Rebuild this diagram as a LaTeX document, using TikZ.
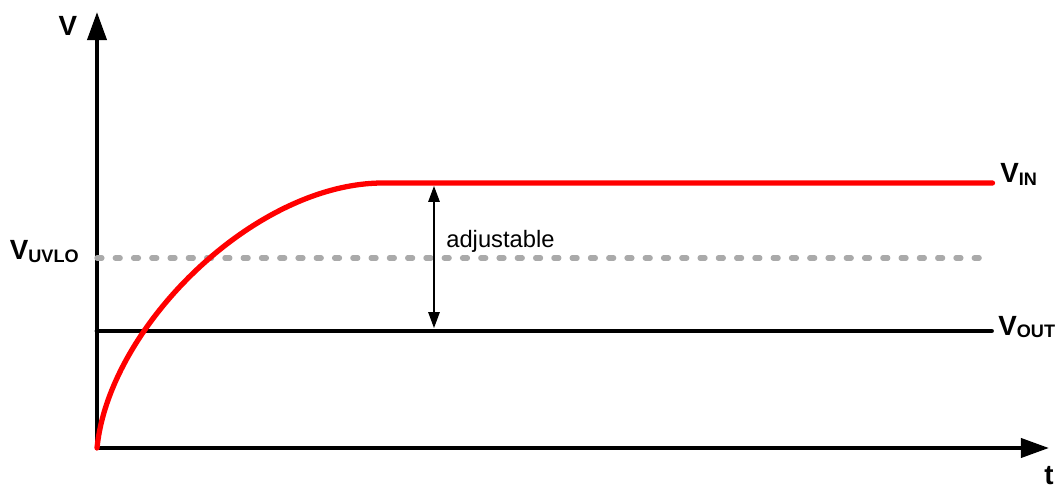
\documentclass[tikz,border=0pt]{standalone}
\usepackage{fontspec}
\setmainfont{Liberation Sans}
\usetikzlibrary{positioning,arrows.meta}
\definecolor{vinred}{RGB}{255,0,0}
\definecolor{uvlogray}{RGB}{170,170,170}
\newcommand{\vsub}[1]{V\raisebox{-1.2pt}{\fontsize{10.3}{12}\selectfont #1}}

\begin{document}
\begin{tikzpicture}[
      lbl/.style={font=\fontsize{15.8}{18}\selectfont\bfseries, inner sep=0pt},
      axisline/.style={line width=2.3pt, -{Triangle[length=16pt, width=10.8pt]}},
      uvloline/.style={uvlogray, line width=3pt, line cap=round, dash pattern=on 2.8pt off 7.6pt},
      voutline/.style={black, line width=2.8pt, line cap=round},
      vinline/.style={vinred, line width=3pt, line cap=round},
      adjarrow/.style={line width=0.75pt, {Triangle[length=9pt, width=6.5pt]}-{Triangle[length=9pt, width=6.5pt]}}
    ]
      \useasboundingbox (0,0) rectangle (21.18,9.78);

      % axes
      \coordinate (O) at (1.94,0.82);
      \coordinate (ytip) at (1.94,9.54);
      \coordinate (xtip) at (20.98,0.82);
      \draw[axisline] (O) -- (ytip);
      \draw[axisline] (O) -- (xtip);
      \node[lbl] (vlab) at (1.36,9.26) {V};
      \node[lbl] (tlab) at (20.98,0.27) {t};

      % UVLO threshold
      \coordinate (uvloL) at (1.94,4.62);
      \coordinate (uvloR) at (19.7,4.62);
      \draw[uvloline] (uvloL) -- (uvloR);
      \node[lbl, anchor=base east] (vuvlo) at (1.58,4.58) {\vsub{UVLO}};

      % output level
      \coordinate (voutL) at (1.94,3.16);
      \coordinate (voutR) at (19.83,3.16);
      \draw[voutline] (voutL) -- (voutR);
      \node[lbl, anchor=base west] (vout) at (19.96,3.08) {\vsub{OUT}};

      % input ramp
      \coordinate (knee) at (7.66,6.12);
      \coordinate (vinR) at (19.85,6.12);
      \draw[vinline] (O) .. controls (2.18,3.25) and (5.1,6.12) .. (knee) -- (vinR);
      \node[lbl, anchor=base west] (vin) at (20.0,6.12) {\vsub{IN}};

      % adjustable gap
      \coordinate (adjT) at (8.68,6.06);
      \coordinate (adjB) at (8.68,3.22);
      \draw[adjarrow] (adjT) -- (adjB);
      \node[anchor=base west, inner sep=0pt, font=\fontsize{13.5}{16}\selectfont] (adj) at (8.92,4.84) {adjustable};
    \end{tikzpicture}
\end{document}
